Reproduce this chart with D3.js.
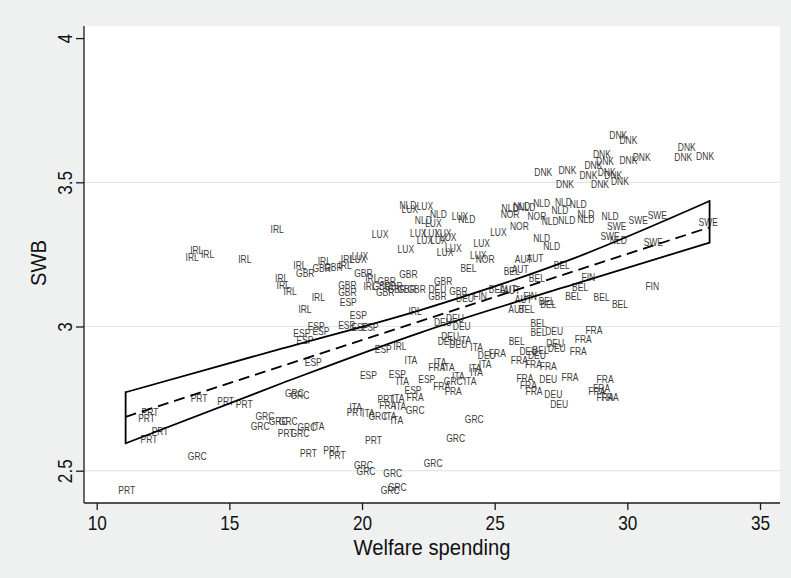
<!DOCTYPE html>
<html><head><meta charset="utf-8">
<script src="https://cdn.jsdelivr.net/npm/d3@7"></script>
<style>body{margin:0;background:#eff1f1}svg{display:block}</style>
</head><body><svg id="chart" width="791" height="578"></svg>
<script>
// ---- data (welfare spending, SWB) ----
const xTicks = [10, 15, 20, 25, 30, 35];
const yTicks = [2.5, 3, 3.5, 4];
const yGrid = [2.5, 3, 3.5];

const DNK = [[29.66,3.664],[30.04,3.647],[32.24,3.621],[32.11,3.587],[32.93,3.591],[29.04,3.598],[28.72,3.560],[29.16,3.574],[30.04,3.575],[30.54,3.587],[26.83,3.533],[27.74,3.540],[28.53,3.525],[29.22,3.535],[29.47,3.525],[29.72,3.502],[28.97,3.494],[27.65,3.491]];
const SWE = [[29.60,3.346],[29.35,3.314],[30.98,3.291],[30.41,3.369],[31.13,3.384],[33.05,3.361]];
const NLD = [[21.73,3.421],[22.88,3.387],[22.31,3.367],[23.95,3.372],[25.58,3.410],[26.02,3.415],[26.21,3.413],[26.77,3.427],[27.59,3.431],[28.15,3.425],[27.46,3.402],[27.09,3.363],[27.72,3.369],[28.44,3.387],[28.44,3.372],[29.35,3.383],[26.77,3.306],[27.15,3.277],[29.66,3.298]];
const NOR = [[25.58,3.389],[26.59,3.381],[25.93,3.346],[24.64,3.231]];
const LUX = [[19.92,3.242],[19.86,3.231],[21.65,3.268],[22.37,3.415],[22.69,3.358],[23.69,3.383],[22.12,3.323],[22.63,3.323],[23.06,3.323],[23.25,3.309],[22.37,3.297],[22.88,3.297],[23.13,3.256],[23.44,3.271],[25.14,3.325],[24.51,3.288],[24.38,3.248],[20.68,3.321],[21.80,3.407]];
const IRL = [[13.77,3.265],[13.60,3.240],[14.18,3.251],[15.58,3.233],[16.80,3.335],[19.45,3.234],[18.58,3.225],[17.66,3.211],[19.36,3.211],[20.37,3.167],[16.97,3.167],[17.03,3.141],[17.29,3.121],[18.35,3.101],[17.85,3.061],[20.30,3.140],[22.00,3.051],[21.43,2.932]];
const GBR = [[17.86,3.184],[18.48,3.202],[18.92,3.205],[20.05,3.184],[21.75,3.179],[19.45,3.144],[19.45,3.119],[20.74,3.140],[20.93,3.155],[21.18,3.138],[20.87,3.117],[21.31,3.129],[21.68,3.129],[22.06,3.129],[23.06,3.155],[22.84,3.106],[23.63,3.121]];
const AUT = [[26.08,3.231],[26.52,3.236],[25.96,3.198],[25.51,3.129],[25.64,3.124],[26.08,3.094],[25.83,3.060]];
const BEL = [[24.01,3.202],[25.64,3.192],[26.59,3.167],[27.53,3.213],[28.22,3.135],[27.96,3.103],[29.03,3.101],[29.72,3.077],[26.96,3.088],[27.02,3.078],[25.08,3.127],[26.21,3.060],[26.65,3.011],[26.65,2.979],[25.83,2.947],[26.73,2.918]];
const FIN = [[24.45,3.106],[26.33,3.106],[28.53,3.171],[30.94,3.140]];
const DEU = [[23.76,2.999],[23.32,2.965],[23.19,2.947],[23.63,2.939],[24.70,2.901],[26.27,2.913],[26.59,2.901],[27.24,2.982],[27.28,2.942],[27.34,2.924],[27.02,2.818],[27.21,2.765],[27.43,2.731],[22.84,3.129],[23.88,3.098],[23.05,3.015],[23.50,3.029]];
const FRA = [[22.00,2.755],[20.97,2.728],[23.00,2.791],[23.44,2.774],[22.82,2.859],[25.10,2.907],[25.93,2.881],[26.46,2.867],[27.02,2.863],[26.14,2.820],[26.27,2.797],[26.48,2.774],[28.74,2.985],[28.34,2.956],[28.15,2.913],[27.84,2.822],[29.16,2.818],[29.03,2.786],[28.85,2.774],[29.16,2.753],[29.35,2.753]];
const ITA = [[21.84,2.881],[21.53,2.810],[19.76,2.720],[20.24,2.699],[21.06,2.690],[21.31,2.673],[21.36,2.749],[21.43,2.722],[18.35,2.653],[23.88,2.951],[24.32,2.928],[22.94,2.874],[23.25,2.859],[24.64,2.869],[24.26,2.855],[24.32,2.841],[23.63,2.826],[24.07,2.811]];
const ESP = [[20.80,2.919],[18.16,2.876],[20.24,2.832],[21.33,2.834],[21.92,2.777],[19.48,3.083],[19.86,3.040],[18.27,3.002],[17.73,2.976],[18.45,2.984],[17.85,2.953],[19.42,3.005],[19.92,2.997],[20.30,2.997],[22.44,2.818]];
const GRC = [[20.60,2.690],[22.00,2.708],[23.44,2.809],[17.45,2.768],[17.66,2.760],[16.34,2.687],[16.16,2.653],[16.84,2.670],[17.22,2.670],[17.66,2.630],[17.92,2.649],[13.79,2.551],[20.05,2.520],[20.15,2.499],[21.16,2.491],[21.06,2.433],[21.33,2.442],[24.23,2.679],[23.53,2.612],[22.68,2.525]];
const PRT = [[12.01,2.702],[11.88,2.680],[13.86,2.749],[14.86,2.742],[15.56,2.730],[12.39,2.638],[11.97,2.610],[11.13,2.430],[17.14,2.630],[17.98,2.560],[18.86,2.572],[19.07,2.552],[20.43,2.606],[19.74,2.702],[20.90,2.748]];

const fitX = [11.09, 33.1];
const fitY = [2.687, 3.344];
const ciX = [11.09, 17, 22.2, 28, 33.1];
const ciUpper = [2.772, 2.924, 3.057, 3.237, 3.435];
const ciLower = [2.595, 2.804, 2.979, 3.147, 3.291];

const series = [["DNK",DNK],["SWE",SWE],["NLD",NLD],["NOR",NOR],["LUX",LUX],["IRL",IRL],["GBR",GBR],["AUT",AUT],["BEL",BEL],["FIN",FIN],["DEU",DEU],["FRA",FRA],["ITA",ITA],["ESP",ESP],["GRC",GRC],["PRT",PRT]];

// ---- chart ----
const svg = d3.select("#chart");
const W = 791, H = 578;
const plot = {l: 84, t: 26, r: 780, b: 503};
const x = d3.scaleLinear().domain([10, 35]).range([96.7, 760]);
const y = d3.scaleLinear().domain([2.5, 4]).range([470.7, 38.1]);
const FONT = "'Liberation Sans',Arial,Helvetica,sans-serif";

svg.append("rect").attr("width", W).attr("height", H).attr("fill", "#eff1f1");
svg.append("rect").attr("x", plot.l).attr("y", plot.t).attr("width", plot.r - plot.l).attr("height", plot.b - plot.t).attr("fill", "#fff");

// gridlines
svg.append("g").selectAll("line").data(yGrid).join("line")
  .attr("x1", plot.l).attr("x2", plot.r)
  .attr("y1", d => y(d)).attr("y2", d => y(d))
  .attr("stroke", "#e4e6e6").attr("stroke-width", 1.2);

// labels (condensed like the original)
const lab = svg.append("g").attr("font-family", FONT).attr("font-size", 10).attr("fill", "#3a3a3a").attr("text-anchor", "middle");
series.forEach(([name, pts]) => {
  lab.selectAll(null).data(pts).join("text")
    .attr("transform", d => `translate(${x(d[0])},${y(d[1]) + 3.6}) scale(0.85,1)`)
    .text(name);
});

// CI band outline and fitted line
const upperPts = ciX.map((v, i) => [x(v), y(ciUpper[i])]);
const lowerPts = ciX.map((v, i) => [x(v), y(ciLower[i])]);
const smooth = d3.line().curve(d3.curveMonotoneX);
svg.append("path").attr("d", smooth(upperPts)).attr("fill", "none").attr("stroke", "#000").attr("stroke-width", 1.8);
svg.append("path").attr("d", smooth(lowerPts)).attr("fill", "none").attr("stroke", "#000").attr("stroke-width", 1.8);
[0, ciX.length - 1].forEach(i => {
  svg.append("line").attr("x1", x(ciX[i])).attr("x2", x(ciX[i]))
    .attr("y1", y(ciUpper[i])).attr("y2", y(ciLower[i]))
    .attr("stroke", "#000").attr("stroke-width", 1.8).attr("stroke-linecap", "square");
});
svg.append("path").attr("d", d3.line()(fitX.map((v, i) => [x(v), y(fitY[i])])))
  .attr("fill", "none").attr("stroke", "#000").attr("stroke-width", 1.8).attr("stroke-dasharray", "11,6");

// axes
const yAxis = svg.append("g").attr("transform", `translate(${plot.l},0)`)
  .call(d3.axisLeft(y).tickValues(yTicks).tickSize(8).tickPadding(10).tickFormat(d3.format("~g")));
yAxis.select(".domain").attr("d", `M0,${plot.t}V${plot.b}`).attr("stroke", "#1a1a1a").attr("stroke-width", 1.3);
yAxis.selectAll(".tick line").attr("stroke", "#1a1a1a").attr("stroke-width", 1.3);
yAxis.selectAll(".tick text")
  .attr("font-family", FONT).attr("font-size", 21).attr("fill", "#111")
  .attr("text-anchor", "middle").attr("x", 0).attr("dy", 0)
  .attr("transform", "translate(-12,0) rotate(-90) scale(0.82,1)");

const xAxis = svg.append("g").attr("transform", `translate(0,${plot.b})`)
  .call(d3.axisBottom(x).tickValues(xTicks).tickSize(7).tickPadding(5).tickFormat(d3.format("~g")));
xAxis.select(".domain").attr("d", `M${plot.l},0H${plot.r}`).attr("stroke", "#1a1a1a").attr("stroke-width", 1.3);
xAxis.selectAll(".tick line").attr("stroke", "#1a1a1a").attr("stroke-width", 1.3);
xAxis.selectAll(".tick text").attr("font-family", FONT).attr("font-size", 21).attr("fill", "#111")
  .attr("transform", "scale(0.82,1)");

svg.append("text").attr("transform", "translate(432,555) scale(0.92,1)").attr("text-anchor", "middle")
  .attr("font-family", FONT).attr("font-size", 22).attr("fill", "#111").text("Welfare spending");
svg.append("text").attr("transform", "translate(46,263) rotate(-90) scale(0.92,1)").attr("text-anchor", "middle")
  .attr("font-family", FONT).attr("font-size", 22).attr("fill", "#111").text("SWB");
</script></body></html>
